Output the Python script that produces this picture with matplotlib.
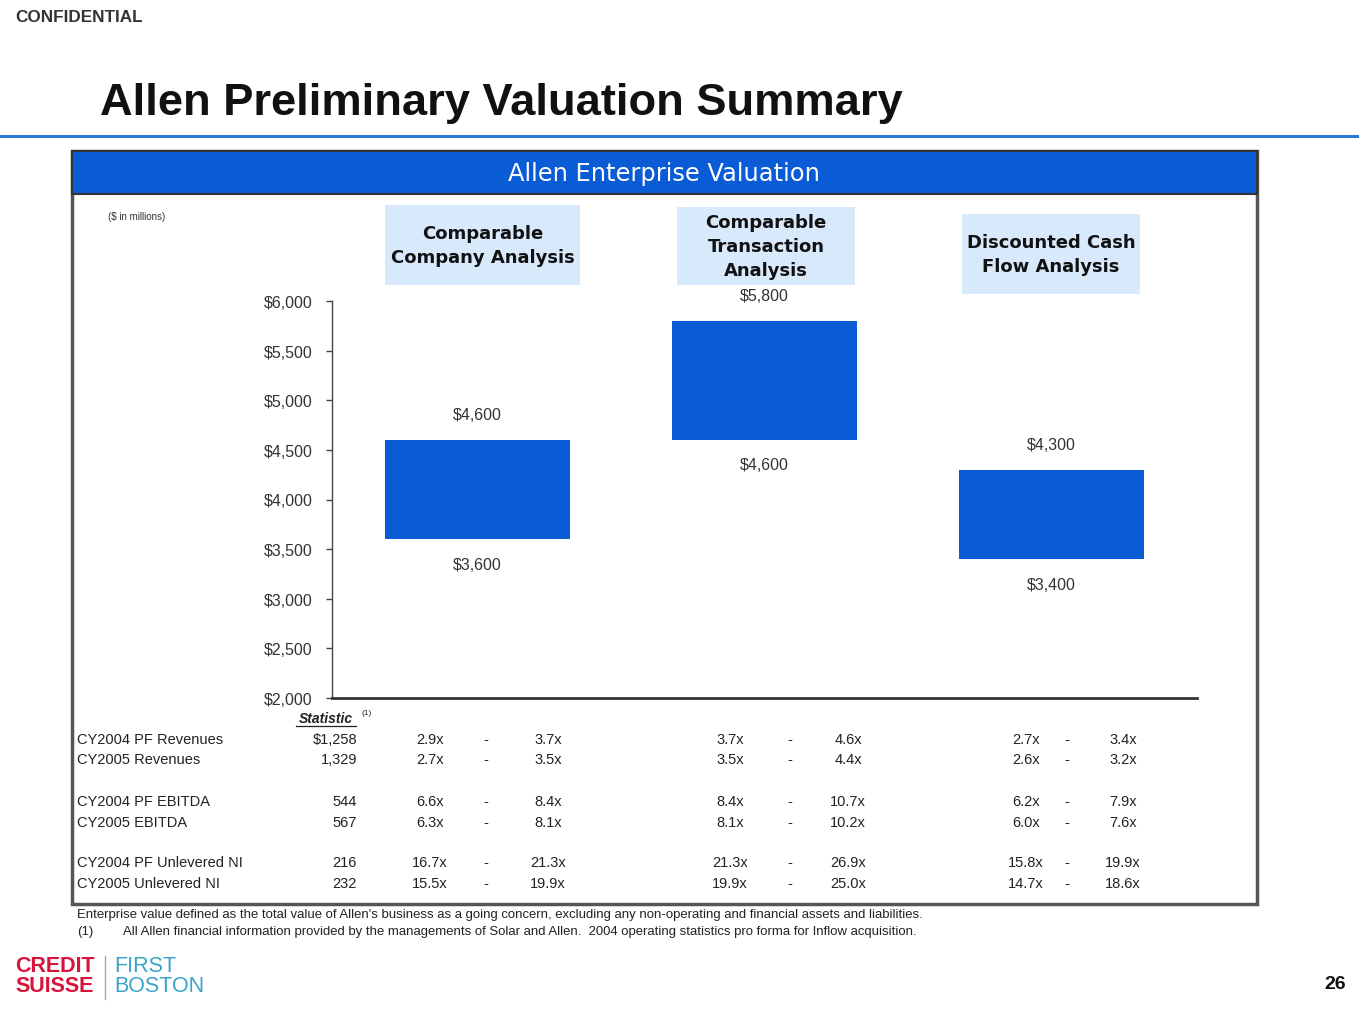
import matplotlib
matplotlib.use('Agg')
import matplotlib.pyplot as plt
from matplotlib.patches import Rectangle
from matplotlib.lines import Line2D

# Dados do grafico
categorias = ['Comparable\nCompany Analysis', 'Comparable\nTransaction\nAnalysis', 'Discounted Cash\nFlow Analysis']
ev_baixo = [3600, 4600, 3400]
ev_alto = [4600, 5800, 4300]
y_ticks = [2000, 2500, 3000, 3500, 4000, 4500, 5000, 5500, 6000]

metricas = ['CY2004 PF Revenues', 'CY2005 Revenues', 'CY2004 PF EBITDA',
            'CY2005 EBITDA', 'CY2004 PF Unlevered NI', 'CY2005 Unlevered NI']
estatistica = ['$1,258', '1,329', '544', '567', '216', '232']
mult_baixo = [['2.9x', '2.7x', '6.6x', '6.3x', '16.7x', '15.5x'],
              ['3.7x', '3.5x', '8.4x', '8.1x', '21.3x', '19.9x'],
              ['2.7x', '2.6x', '6.2x', '6.0x', '15.8x', '14.7x']]
mult_alto = [['3.7x', '3.5x', '8.4x', '8.1x', '21.3x', '19.9x'],
             ['4.6x', '4.4x', '10.7x', '10.2x', '26.9x', '25.0x'],
             ['3.4x', '3.2x', '7.9x', '7.6x', '19.9x', '18.6x']]

nota1 = ("Enterprise value defined as the total value of Allen's business as a going concern, "
         "excluding any non-operating and financial assets and liabilities.")
nota2 = ("All Allen financial information provided by the managements of Solar and Allen.  "
         "2004 operating statistics pro forma for Inflow acquisition.")

# Layout em pixels
W, H = 1359, 1020
AZUL = '#0A5CD6'
AZUL_CLARO = '#D8E9FB'
CINZA = '#444444'
ARIAL = ['Liberation Sans', 'DejaVu Sans']
NARROW = ['Liberation Sans Narrow', 'DejaVu Sans Condensed', 'Liberation Sans']
TAHOMA = ['DejaVu Sans']


def fx(x):
    return x / W


def fy(y):
    return 1 - y / H


def texto(x, y, s, **kw):
    kw.setdefault('family', ARIAL)
    kw.setdefault('color', '#222222')
    fig.text(fx(x), fy(y), s, **kw)


fig = plt.figure(figsize=(W / 100, H / 100), dpi=100)
fig.patch.set_facecolor('white')

# Cabecalho da pagina
texto(15, 18, 'CONFIDENTIAL', fontsize=12.3, fontweight='bold', ha='left', va='center',
      color='#333333')
texto(100, 103, 'Allen Preliminary Valuation Summary', fontsize=32.6, fontweight='bold',
      ha='left', va='center', color='#111111')
fig.add_artist(Line2D([0, 1], [fy(137), fy(137)], color='#2A7BD0', lw=2.2))

# Moldura e faixa azul
fig.add_artist(Rectangle((fx(72), fy(905)), fx(1257) - fx(72), fy(152) - fy(905),
                         fill=False, edgecolor='#555555', lw=2.5))
fig.add_artist(Rectangle((fx(72), fy(195)), fx(1257) - fx(72), fy(152) - fy(195),
                         facecolor=AZUL, edgecolor='#333333', lw=1.5))
texto(664, 174, 'Allen Enterprise Valuation', fontsize=17.4, ha='center', va='center',
      color='white', family=TAHOMA)
texto(108, 217, '($ in millions)', fontsize=7, ha='left', va='center', color='#333333')

# Eixo principal
ax = fig.add_axes([fx(332), fy(699), fx(1197) - fx(332), fy(302) - fy(699)])
pos = list(range(len(categorias)))
alturas = [a - b for a, b in zip(ev_alto, ev_baixo)]
ax.bar(pos, alturas, bottom=ev_baixo, width=0.645, color=AZUL, zorder=3)
ax.set_xlim(-0.507, 2.507)
ax.set_ylim(2000, 6000)
ax.set_yticks(y_ticks)
ax.set_yticklabels(['${:,.0f}'.format(v) for v in y_ticks], family=ARIAL, fontsize=11.5,
                   color='#333333')
ax.tick_params(axis='y', length=4, width=1, color=CINZA, pad=10)
ax.set_xticks([])
for lado in ['top', 'right']:
    ax.spines[lado].set_visible(False)
ax.spines['left'].set_color(CINZA)
ax.spines['left'].set_linewidth(1)
ax.spines['bottom'].set_color('#333333')
ax.spines['bottom'].set_linewidth(2)
ax.patch.set_alpha(0)

for i in pos:
    ax.annotate('${:,.0f}'.format(ev_alto[i]), (i, ev_alto[i]), xytext=(0, 25),
                textcoords='offset pixels', ha='center', va='center', fontsize=11.5,
                family=ARIAL, color='#333333')
    ax.annotate('${:,.0f}'.format(ev_baixo[i]), (i, ev_baixo[i]), xytext=(0, -25),
                textcoords='offset pixels', ha='center', va='center', fontsize=11.5,
                family=ARIAL, color='#333333')

# Caixas com o nome de cada metodologia
caixas = [(385, 206, 580, 286), (677, 208, 855, 286), (962, 215, 1140, 295)]
for nome, (x0, y0, x1, y1) in zip(categorias, caixas):
    fig.add_artist(Rectangle((fx(x0), fy(y1)), fx(x1) - fx(x0), fy(y0) - fy(y1),
                             facecolor=AZUL_CLARO, edgecolor='none'))
    texto((x0 + x1) / 2, (y0 + y1) / 2, nome, fontsize=13, fontweight='bold',
          ha='center', va='center', family=TAHOMA, linespacing=1.45, color='#111111')

# Tabela de multiplos
linhas_y = [740, 760, 802, 823, 863, 884]
texto(326, 719, 'Statistic', fontsize=10, fontweight='bold', fontstyle='italic',
      ha='center', va='center')
fig.add_artist(Line2D([fx(296), fx(356)], [fy(727), fy(727)], color='#222222', lw=0.9))
texto(361, 714, '(1)', fontsize=6, ha='left', va='center')

col_baixo = [430, 730, 1026]
col_traco = [486, 790, 1067]
col_alto = [548, 848, 1123]
for j, y in enumerate(linhas_y):
    texto(77, y, metricas[j], fontsize=10.5, ha='left', va='center')
    texto(357, y, estatistica[j], fontsize=10.5, ha='right', va='center')
    for i in range(len(categorias)):
        texto(col_baixo[i], y, mult_baixo[i][j], fontsize=10.5, ha='center', va='center')
        texto(col_traco[i], y, '-', fontsize=10.5, ha='center', va='center')
        texto(col_alto[i], y, mult_alto[i][j], fontsize=10.5, ha='center', va='center')

# Notas de rodape
texto(77, 915, nota1, fontsize=9.45, ha='left', va='center', family=NARROW)
texto(77, 932, '(1)', fontsize=9.45, ha='left', va='center', family=NARROW)
texto(123, 932, nota2, fontsize=9.45, ha='left', va='center', family=NARROW)

# Logotipo e numero da pagina
texto(15, 967, 'CREDIT', fontsize=15.5, fontweight='bold', ha='left', va='center', color='#D9143A')
texto(15, 987, 'SUISSE', fontsize=15.5, fontweight='bold', ha='left', va='center', color='#D9143A')
fig.add_artist(Line2D([fx(105), fx(105)], [fy(957), fy(1000)], color='#AAAAAA', lw=1))
texto(114, 967, 'FIRST', fontsize=15.5, ha='left', va='center', color='#3AA4C8', family=NARROW)
texto(114, 987, 'BOSTON', fontsize=15.5, ha='left', va='center', color='#3AA4C8', family=NARROW)
texto(1335, 985, '26', fontsize=14, fontweight='bold', ha='center', va='center', color='#111111')

fig.savefig('out.png', dpi=100)
